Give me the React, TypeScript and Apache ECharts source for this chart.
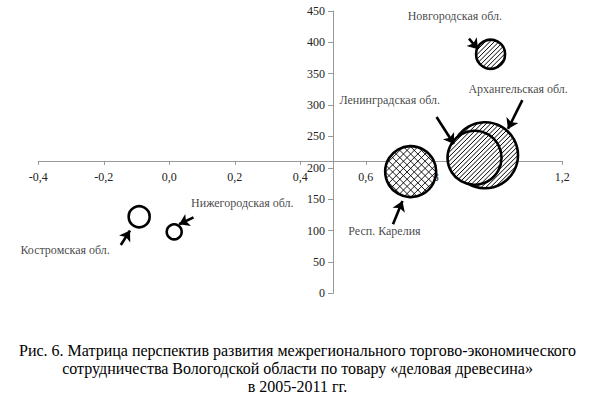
import React, { useEffect, useRef } from "react";
import * as echarts from "echarts";

// Bubble data: region, x (growth coeff), y (index), bubble size (px diameter)
const regions = [
  "Архангельская обл.",
  "Ленинградская обл.",
  "Новгородская обл.",
  "Респ. Карелия",
  "Костромская обл.",
  "Нижегородская обл.",
];
const xValues = [0.964, 0.932, 0.981, 0.737, -0.092, 0.015];
const yValues = [220, 216, 381, 194, 122, 98];
const bubbleSizes = [66, 54, 29, 51, 21, 15];
// 1 = diagonal hatch, 2 = cross hatch, 0 = empty
const fills = [1, 1, 1, 2, 0, 0];

// Annotation labels (data coords) and arrows (tail -> head, data coords)
const labelX = [1.065, 0.673, 0.872, 0.657, -0.318, 0.223];
const labelY = [325, 308, 442, 99, 69, 144];
const arrowFrom = [
  [1.078, 308],
  [0.816, 281],
  [0.915, 406],
  [0.683, 110],
  [-0.148, 77],
  [0.074, 121],
];
const arrowTo = [
  [1.034, 262],
  [0.869, 238],
  [0.943, 389],
  [0.712, 147],
  [-0.12, 100],
  [0.03, 110],
];

// Axes
const xMin = -0.4;
const xMax = 1.2;
const xStep = 0.2;
const yMin = 0;
const yMax = 450;
const yStep = 50;
const xCross = 211; // y value where the horizontal axis crosses
const yCross = 0.5; // x value where the vertical axis crosses

const caption =
  "Рис. 6. Матрица перспектив развития межрегионального торгово-экономического\nсотрудничества Вологодской области по товару «деловая древесина»\nв 2005-2011 гг.";

const FONT = "Liberation Serif";

function hatchLines(
  cx: number,
  cy: number,
  r: number,
  ux: number,
  uy: number,
  spacing: number,
  lw: number
) {
  // u = line direction (unit), n = normal
  const nx = -uy;
  const ny = ux;
  const out: any[] = [];
  const rr = r - 0.3;
  for (let t = -rr + spacing / 2; t < rr; t += spacing) {
    const half = Math.sqrt(Math.max(0, rr * rr - t * t));
    const px = cx + t * nx;
    const py = cy + t * ny;
    out.push({
      type: "line",
      shape: { x1: px - half * ux, y1: py - half * uy, x2: px + half * ux, y2: py + half * uy },
      style: { stroke: "#000", lineWidth: lw },
    });
  }
  return out;
}

export default function App() {
  const ref = useRef<HTMLDivElement>(null);
  useEffect(() => {
    if (!ref.current) return;
    const chart = echarts.init(ref.current, undefined, { renderer: "svg" });
    const W = 595;
    const H = 396;
    const grid = { left: 38.3, right: 32.7, top: 11, bottom: 102.7 };
    const gw = W - grid.left - grid.right;
    const gh = H - grid.top - grid.bottom;
    const xOffset = -((xCross - yMin) / (yMax - yMin)) * gh;
    const yOffset = -((yCross - xMin) / (xMax - xMin)) * gw;
    const s2 = Math.SQRT1_2;

    chart.setOption({
      animation: false,
      backgroundColor: "#fff",
      textStyle: { fontFamily: FONT },
      graphic: [
        {
          type: "text",
          left: "center",
          top: 341,
          style: {
            text: caption,
            textAlign: "center",
            fontFamily: FONT,
            fontSize: 16,
            lineHeight: 18,
            fill: "#000",
          },
        },
      ],
      grid,
      xAxis: {
        type: "value",
        min: xMin,
        max: xMax,
        interval: xStep,
        offset: xOffset,
        axisLine: { onZero: false, lineStyle: { color: "#999", width: 1 } },
        axisTick: { show: true, length: 4, lineStyle: { color: "#999" } },
        splitLine: { show: false },
        axisLabel: {
          margin: 10,
          fontSize: 12,
          fontFamily: FONT,
          color: "#222",
          formatter: (v: number) =>
            (Math.abs(v) < 1e-9 ? 0 : v).toFixed(1).replace(".", ","),
        },
      },
      yAxis: {
        type: "value",
        min: yMin,
        max: yMax,
        interval: yStep,
        offset: yOffset,
        axisLine: { show: true, onZero: false, lineStyle: { color: "#999", width: 1 } },
        axisTick: { show: true, length: 5, lineStyle: { color: "#999" } },
        splitLine: { show: false },
        axisLabel: {
          margin: 8,
          fontSize: 12,
          fontFamily: FONT,
          color: "#222",
        },
      },
      series: [
        {
          type: "custom",
          z: 3,
          silent: true,
          encode: { x: 0, y: 1 },
          data: regions.map((_, i) => [xValues[i], yValues[i], bubbleSizes[i], fills[i]]),
          renderItem: (params: any, api: any) => {
            const [cx, cy] = api.coord([api.value(0), api.value(1)]);
            const r = api.value(2) / 2;
            const f = api.value(3);
            const children: any[] = [
              { type: "circle", shape: { cx, cy, r }, style: { fill: "#fff", stroke: null } },
            ];
            if (f === 1) {
              children.push(...hatchLines(cx, cy, r, s2, -s2, 3.2, 1));
            } else if (f === 2) {
              children.push(...hatchLines(cx, cy, r, s2, -s2, 5.1, 0.9));
              children.push(...hatchLines(cx, cy, r, s2, s2, 5.1, 0.9));
            }
            children.push({
              type: "circle",
              shape: { cx, cy, r },
              style: { fill: "none", stroke: "#000", lineWidth: 2.6 },
            });
            return { type: "group", children };
          },
        },
        {
          type: "lines",
          coordinateSystem: "cartesian2d",
          z: 4,
          symbol: ["none", "arrow"],
          symbolSize: 10,
          lineStyle: { color: "#000", width: 2.6, opacity: 1 },
          data: arrowFrom.map((f, i) => ({ coords: [f, arrowTo[i]] })),
          silent: true,
        },
        {
          type: "scatter",
          z: 5,
          symbolSize: 1,
          itemStyle: { color: "rgba(0,0,0,0)" },
          silent: true,
          label: {
            show: true,
            position: "inside",
            formatter: (p: any) => p.name,
            fontFamily: FONT,
            fontSize: 12,
            color: "#111",
          },
          data: regions.map((name, i) => ({ name, value: [labelX[i], labelY[i]] })),
        },
      ],
    });
    return () => chart.dispose();
  }, []);
  return <div ref={ref} style={{ width: 595, height: 396, position: "absolute", left: 0, top: 0 }} />;
}
